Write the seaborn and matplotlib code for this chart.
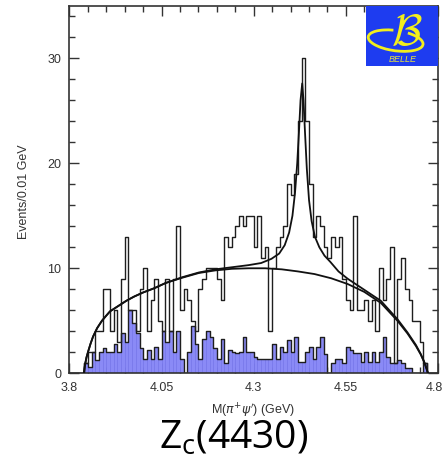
import numpy as np
import pandas as pd
import matplotlib
matplotlib.use("Agg")
import matplotlib.pyplot as plt
from matplotlib.patches import Rectangle, Arc
from matplotlib.ticker import MultipleLocator, FixedLocator
import matplotlib.transforms as mtransforms
import seaborn as sns

# 0.01 GeV binning of M(pi+ psi')
bin_edges = [round(3.80 + 0.01 * i, 3) for i in range(101)]
bin_centers = [round(e + 0.005, 4) for e in bin_edges[:-1]]

# events per bin (signal region)
data_counts = [
    0, 0, 0, 0, 1, 2, 2, 4, 4, 8,
    8, 4, 6, 3, 9, 13, 6, 6, 4, 8,
    10, 4, 7, 9, 5, 4, 9, 4, 9, 14,
    6, 8, 7, 5, 4, 8, 9, 10, 10, 10,
    9, 7, 13, 12, 13, 14, 15, 14, 15, 15,
    12, 15, 11, 12, 4, 10, 12, 13, 14, 18,
    17, 19, 24, 30, 24, 18, 13, 15, 14, 12,
    11, 13, 12, 13, 9, 7, 6, 15, 6, 6,
    7, 5, 7, 4, 10, 7, 9, 12, 1, 9,
    11, 8, 7, 5, 5, 3, 1, 0, 0, 0,
]

# scaled sideband background per bin
sideband_counts = [
    0, 0, 0, 0, 1.0, 0.6, 2.0, 1.3, 2.0, 2.4,
    2.0, 2.0, 2.8, 2.0, 3.8, 3.0, 6.0, 4.8, 3.8, 2.4,
    1.4, 2.2, 1.4, 2.5, 1.4, 4.0, 3.0, 4.0, 2.0, 4.0,
    1.4, 0.0, 2.0, 4.5, 2.8, 1.4, 3.3, 4.0, 3.5, 2.4,
    1.4, 3.3, 1.0, 2.2, 2.0, 1.9, 2.0, 3.5, 2.0, 2.0,
    1.6, 1.4, 1.4, 1.4, 1.4, 2.8, 1.4, 2.5, 2.0, 3.2,
    2.0, 3.5, 1.1, 1.1, 2.0, 2.5, 1.4, 2.5, 3.5, 1.8,
    0.0, 1.0, 1.4, 1.4, 1.0, 2.5, 2.2, 1.9, 1.9, 1.1,
    2.0, 1.1, 2.0, 1.1, 2.0, 3.5, 1.6, 1.0, 1.0, 1.3,
    1.0, 0.5, 0.5, 0, 0, 0, 1.0, 0, 0, 0,
]

# fitted background shape
bg_mass = [3.839, 3.842, 3.846, 3.850, 3.857, 3.864, 3.875, 3.888, 3.900, 3.910,
           3.932, 3.954, 3.975, 4.000, 4.030, 4.061, 4.106, 4.151, 4.196, 4.241,
           4.286, 4.331, 4.376, 4.420, 4.465, 4.510, 4.555, 4.600, 4.645, 4.690,
           4.717, 4.740, 4.753, 4.762, 4.768, 4.771, 4.773]
bg_curve = [0, 0.8, 1.5, 2.0, 2.8, 3.5, 4.3, 5.0, 5.5, 5.9,
            6.4, 6.9, 7.3, 7.7, 8.1, 8.6, 9.1, 9.55, 9.8, 9.95,
            10.0, 10.0, 9.9, 9.7, 9.45, 9.05, 8.5, 7.75, 6.7, 5.0,
            3.8, 2.6, 1.8, 1.1, 0.5, 0.2, 0]

# fitted signal + background
fit_mass = [3.839, 3.842, 3.846, 3.850, 3.857, 3.864, 3.875, 3.888, 3.900, 3.910,
            3.932, 3.954, 3.975, 4.000, 4.030, 4.061, 4.106, 4.151, 4.196, 4.241,
            4.286, 4.320, 4.348, 4.369, 4.384, 4.396, 4.405, 4.412, 4.418, 4.423,
            4.427, 4.4315, 4.435, 4.439, 4.444, 4.450, 4.457, 4.466, 4.478, 4.492,
            4.508, 4.530, 4.555, 4.600, 4.645, 4.690, 4.717, 4.740, 4.753, 4.762,
            4.768, 4.771, 4.773]
fit_curve = [0, 0.8, 1.5, 2.0, 2.8, 3.5, 4.3, 5.0, 5.5, 5.9,
             6.4, 6.9, 7.3, 7.7, 8.1, 8.6, 9.15, 9.6, 9.9, 10.1,
             10.3, 10.5, 10.9, 11.4, 12.2, 13.4, 15.0, 17.2, 20.0, 23.2,
             26.0, 27.6, 26.0, 23.0, 19.5, 16.5, 14.5, 13.0, 12.0, 11.2,
             10.6, 9.7, 9.0, 7.95, 6.9, 5.15, 3.9, 2.7, 1.85, 1.15,
             0.55, 0.22, 0]

x_ticks = [3.8, 4.05, 4.3, 4.55, 4.8]
x_tick_labels = ["3.8", "4.05", "4.3", "4.55", "4.8"]
y_ticks = [0, 10, 20, 30]

sns.set_theme(style="ticks")
plt.rcParams["font.family"] = ["Liberation Sans", "DejaVu Sans"]

fig = plt.figure(figsize=(4.44, 4.63), dpi=100)
ax = fig.add_axes([0.1565, 0.1937, 0.830, 0.794])

hist_df = pd.DataFrame({"mass": bin_centers,
                        "data": data_counts,
                        "side": sideband_counts})

# sideband background: filled bars, then dark outline
sns.histplot(data=hist_df, x="mass", weights="side", bins=bin_edges,
             element="bars", fill=True, color="#8a8af6", alpha=1.0,
             edgecolor="#7575ea", linewidth=0.5, ax=ax, zorder=1)
sns.histplot(data=hist_df, x="mass", weights="side", bins=bin_edges,
             element="step", fill=False, color="#1e1e1e", linewidth=1.0,
             ax=ax, zorder=2)
# signal-region data
sns.histplot(data=hist_df, x="mass", weights="data", bins=bin_edges,
             element="step", fill=False, color="#1e1e1e", linewidth=1.0,
             ax=ax, zorder=3)

# fit curves
sns.lineplot(x=bg_mass, y=bg_curve, color="#111111", linewidth=1.3,
             ax=ax, zorder=4)
sns.lineplot(x=fit_mass, y=fit_curve, color="#111111", linewidth=1.3,
             ax=ax, zorder=4)

ax.set_xlim(3.8, 4.8)
ax.set_ylim(0, 35)

ax.xaxis.set_major_locator(FixedLocator(x_ticks))
ax.set_xticklabels(x_tick_labels)
ax.xaxis.set_minor_locator(MultipleLocator(0.05))
ax.yaxis.set_major_locator(FixedLocator(y_ticks))
ax.yaxis.set_minor_locator(MultipleLocator(2))

ax.tick_params(which="both", direction="in", top=True, right=True,
               color="#333333", width=1.0)
ax.tick_params(which="major", length=7, labelsize=9, labelcolor="#333333",
               pad=6)
ax.tick_params(which="minor", length=4)
for sp in ax.spines.values():
    sp.set_color("#333333")
    sp.set_linewidth(1.2)

# nudge the last x label so it stays inside the canvas
last_label = ax.get_xticklabels()[-1]
last_label.set_transform(last_label.get_transform() +
                         mtransforms.ScaledTranslation(-4 / 100, 0,
                                                       fig.dpi_scale_trans))

ax.set_xlabel(r"M($\pi^{+}\psi^{\prime}$) (GeV)", fontsize=9, color="#333333")
ax.set_ylabel("Events/0.01 GeV", fontsize=9, color="#333333")
ax.xaxis.set_label_coords(0.498, -0.076)
ax.yaxis.set_label_coords(-0.107, 0.493)

# experiment logo in the upper-right corner
ax.add_patch(Rectangle((0.805, 0.836), 0.195, 0.164, transform=ax.transAxes,
                       facecolor="#1e3cf0", edgecolor="none", zorder=5,
                       clip_on=False))
ax.add_patch(Arc((0.885, 0.905), 0.15, 0.055, angle=-8, theta1=110,
                 theta2=400, transform=ax.transAxes, color="#f2ee1c",
                 linewidth=2.0, zorder=6))
ax.text(0.915, 0.925, r"$\mathcal{B}$", transform=ax.transAxes,
        fontsize=32, color="#f2ee1c", ha="center", va="center",
        math_fontfamily="cm", zorder=7)
ax.text(0.905, 0.855, "BELLE", transform=ax.transAxes, fontsize=6.5,
        color="#e8e43a", ha="center", va="center", style="italic", zorder=7)

# caption below the plot
fig.text(0.527, 0.030, r"Z$_{\mathregular{c}}$(4430)", fontsize=28,
         family=["Open Sans", "DejaVu Sans"], ha="center", va="baseline",
         color="black")

fig.savefig("out.png", dpi=100)
